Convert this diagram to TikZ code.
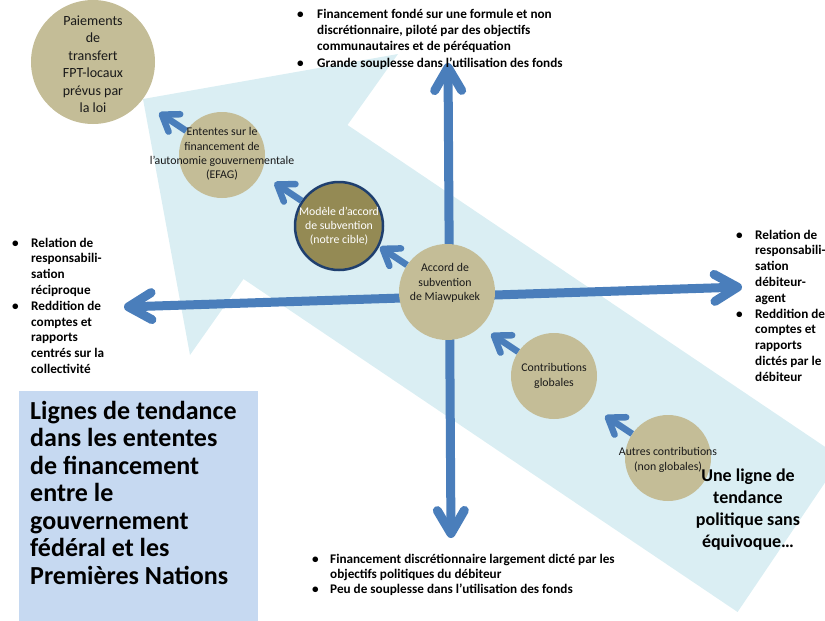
\documentclass[tikz,border=0pt]{standalone}
\usepackage{fontspec}
\setmainfont{Carlito}
\usetikzlibrary{arrows.meta}
\definecolor{trendblue}{HTML}{DAEEF3}
\definecolor{axisblue}{HTML}{4A7EBB}
\definecolor{disctan}{HTML}{C4BD97}
\definecolor{discolive}{HTML}{948A54}
\definecolor{discrim}{HTML}{1F3F6E}
\definecolor{titlefill}{HTML}{C6D9F1}
\begin{document}
\begin{tikzpicture}[x=1pt,y=-1pt,
  axisarrow/.style={draw=axisblue, line width=9pt,
    {Straight Barb[round,length=23pt,width=27pt]}-{Straight Barb[round,length=23pt,width=27pt]}},
  steparrow/.style={draw=axisblue, line width=6.5pt,
    -{Straight Barb[round,length=15pt,width=21pt]}},
  disc/.style={circle, fill=disctan, inner sep=0pt},
  disctext/.style={align=center, inner sep=0pt, text=black!90,
    font=\fontsize{11.8}{14.3}\selectfont},
  bullets/.style={anchor=base west, inner sep=0pt,
    font=\bfseries\fontsize{13.2}{15.8}\selectfont},
]
\useasboundingbox (0,0) rectangle (825,621);
\clip (0,0) rectangle (825,621);

% broad trend arrow in the background
\fill[trendblue] (143,99) -- (398,54) -- (347.5,125) -- (841.6,458)
  -- (737.6,612) -- (243.5,279) -- (190,355) -- cycle;

% the two axes
\coordinate (vtop) at (448,63);
\coordinate (vbot) at (451,538);
\coordinate (hleft) at (124,307);
\coordinate (hright) at (742,287);
\draw[axisarrow] (vtop) -- (vbot);
\draw[axisarrow] (hleft) -- (hright);

% funding arrangements
\node[disc, minimum size=124pt] (paiements) at (93,62) {};
\node[disc, minimum size=86pt] (efag) at (222,155) {};
\node[disc, minimum size=88pt, fill=discolive, draw=discrim, line width=2.5pt] (modele) at (339,226) {};
\node[disc, minimum size=96pt] (accord) at (447,292) {};
\node[disc, minimum size=86pt] (globales) at (554,376) {};
\node[disc, minimum size=86pt] (autres) at (668,458) {};

% steps along the trend
\draw[steparrow] (efag.146) -- ++(-27,-18);
\draw[steparrow] (modele.146) -- ++(-27,-18);
\draw[steparrow] (accord.146) -- ++(-27,-18);
\draw[steparrow] (globales.146) -- ++(-27,-18);
\draw[steparrow] (autres.146) -- ++(-27,-18);

% labels of the arrangements
\node[disctext, font=\fontsize{14}{17.5}\selectfont] (paiementstxt) at (93,64)
  {Paiements\\de\\transfert\\FPT-locaux\\prévus par\\la loi};
\node[disctext] (efagtxt) at (222,154)
  {Ententes sur le\\financement de\\l’autonomie gouvernementale\\(EFAG)};
\node[disctext, text=white] (modeletxt) at (339,226)
  {Modèle d’accord\\de subvention\\(notre cible)};
\node[disctext] (accordtxt) at (445,283)
  {Accord de\\subvention\\de Miawpukek};
\node[disctext] (globalestxt) at (554,376)
  {Contributions\\globales};
\node[disctext] (autrestxt) at (668,460)
  {Autres contributions\\(non globales)};

% descriptions at the ends of the axes
\node[bullets, font=\bfseries\fontsize{13.2}{16}\selectfont] (toptxt) at (297,19) {\begin{tabular}[t]{@{}l@{}l@{}}
\makebox[20pt][l]{•} & Financement fondé sur une formule et non\\
 & discrétionnaire, piloté par des objectifs\\
 & communautaires et de péréquation\\
\makebox[20pt][l]{•} & Grande souplesse dans l’utilisation des fonds
\end{tabular}};
\node[bullets] (lefttxt) at (12,247) {\begin{tabular}[t]{@{}l@{}l@{}}
\makebox[19pt][l]{•} & Relation de\\
 & responsabili-\\
 & sation\\
 & réciproque\\
\makebox[19pt][l]{•} & Reddition de\\
 & comptes et\\
 & rapports\\
 & centrés sur la\\
 & collectivité
\end{tabular}};
\node[bullets] (righttxt) at (736,239) {\begin{tabular}[t]{@{}l@{}l@{}}
\makebox[19pt][l]{•} & Relation de\\
 & responsabili-\\
 & sation\\
 & débiteur-\\
 & agent\\
\makebox[19pt][l]{•} & Reddition de\\
 & comptes et\\
 & rapports\\
 & dictés par le\\
 & débiteur
\end{tabular}};
\node[bullets, font=\bfseries\fontsize{13.2}{15}\selectfont] (bottomtxt) at (312,563) {\begin{tabular}[t]{@{}l@{}l@{}}
\makebox[18pt][l]{•} & Financement discrétionnaire largement dicté par les\\
 & objectifs politiques du débiteur\\
\makebox[18pt][l]{•} & Peu de souplesse dans l’utilisation des fonds
\end{tabular}};

% conclusion (anchored on the baseline of its last line)
\node[align=center, anchor=base, inner sep=0pt,
  font=\bfseries\fontsize{18}{22}\selectfont] (verdict) at (748,547)
  {Une ligne de\\tendance\\politique sans\\équivoque…};

% title panel
\node[fill=titlefill, minimum width=239pt, minimum height=235pt, inner sep=0pt,
  anchor=north west] (titlebox) at (19,391) {};
\node[align=left, anchor=base west, inner sep=0pt,
  font=\bfseries\fontsize{26}{27.5}\selectfont] (titletxt) at (30,584)
  {Lignes de tendance\\dans les ententes\\de financement\\entre le\\gouvernement\\fédéral et les\\Premières Nations};
\end{tikzpicture}
\end{document}
